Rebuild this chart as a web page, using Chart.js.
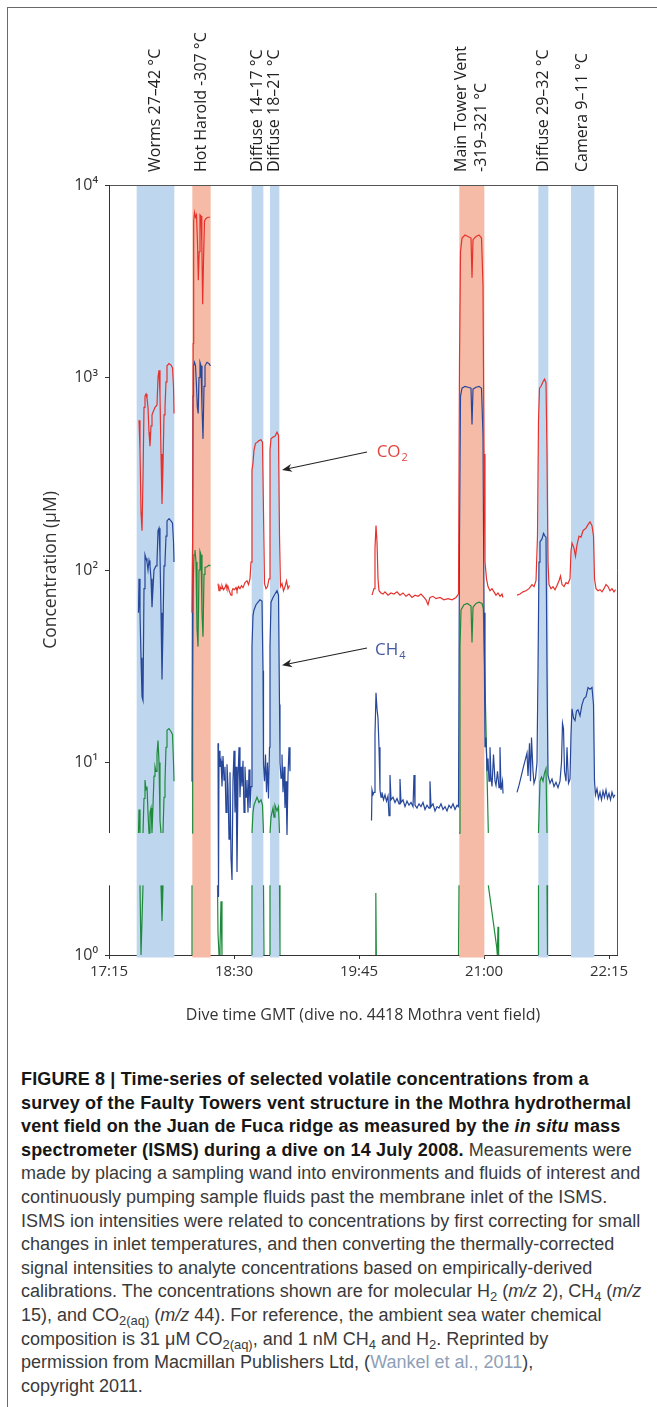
<!DOCTYPE html>
<html>
<head>
<meta charset="utf-8">
<script src="https://cdn.jsdelivr.net/npm/chart.js@4.4.0/dist/chart.umd.min.js"></script>
<style>
  html, body { margin: 0; padding: 0; background: #fff; }
  body { width: 657px; height: 1407px; position: relative; overflow: hidden; }
  #frame { position: absolute; left: 7px; top: 7px; width: 700px; height: 1450px; border-left: 1px solid #6a6a6a; border-top: 1px solid #6a6a6a; }
  #chartBox { position: absolute; left: 0; top: 0; width: 657px; height: 1040px; }
  #caption { position: absolute; left: 21px; top: 1068px; font-family: "Liberation Sans", Arial, sans-serif; font-size: 18px; line-height: 23.6px; color: #3a3a3a; white-space: nowrap; }
  #caption b { color: #161616; letter-spacing: 0.15px; }
  #caption sub { font-size: 0.72em; line-height: 0; vertical-align: -0.3em; }
  #caption .ref { color: #8fa0b8; }
</style>
</head>
<body>
<div id="frame"></div>
<div id="chartBox"><canvas id="ismsChart" width="657" height="1040"></canvas></div>
<div id="caption">
<b>FIGURE 8 | Time-series of selected volatile concentrations from a<br>
survey of the Faulty Towers vent structure in the Mothra hydrothermal<br>
vent field on the Juan de Fuca ridge as measured by the <i>in situ</i> mass<br>
spectrometer (ISMS) during a dive on 14 July 2008.</b> Measurements were<br>
made by placing a sampling wand into environments and fluids of interest and<br>
continuously pumping sample fluids past the membrane inlet of the ISMS.<br>
ISMS ion intensities were related to concentrations by first correcting for small<br>
changes in inlet temperatures, and then converting the thermally-corrected<br>
signal intensities to analyte concentrations based on empirically-derived<br>
calibrations. The concentrations shown are for molecular H<sub>2</sub> (<i>m/z</i> 2), CH<sub>4</sub> (<i>m/z</i><br>
15), and CO<sub>2(aq)</sub> (<i>m/z</i> 44). For reference, the ambient sea water chemical<br>
composition is 31 &mu;M CO<sub>2(aq)</sub>, and 1 nM CH<sub>4</sub> and H<sub>2</sub>. Reprinted by<br>
permission from Macmillan Publishers Ltd, (<span class="ref">Wankel et al., 2011</span>),<br>
copyright 2011.
</div>
<script>
"use strict";

// time axis: minutes after 17:15 GMT
const START = 17 * 60 + 15;
const xTicks = [0, 75, 150, 225, 300];
const yTicks = [1, 10, 100, 1000, 10000];

// sampling windows
const bandStart = [16.6, 50.0, 85.6, 96.6, 210.2, 257.6, 277.2];
const bandEnd   = [39.2, 61.0, 92.6, 102.2, 225.2, 263.6, 291.2];
const bandKind  = ['cool', 'hot', 'cool', 'cool', 'hot', 'cool', 'cool'];
const bandLabels = [
  ['Worms 27–42 °C'], ['Hot Harold -307 °C'], ['Diffuse 14–17 °C'], ['Diffuse 18–21 °C'],
  ['Main Tower Vent', '-319–321 °C'], ['Diffuse 29–32 °C'], ['Camera 9–11 °C']
];

// CO2 (µM)
const co2Time = [
  18.0,18.6,19.2,19.8,20.4,21.0,21.6,22.2,22.8,23.4,24.0,24.6,25.2,25.8,26.4,27.6,28.8,29.4,30.0,30.6,31.2,31.8,32.4,33.0,33.6,34.2,34.8,36.0,37.2,38.1,38.7,39.0, 44,
  49.8,50.2,50.5,50.8,51.3,51.9,52.5,53.1,53.6,54.1,54.6,55.2,55.7,56.2,56.7,57.3,58.2,59.4,60.6, 63,
  65.4,66.0,66.6,67.2,67.8,68.7,69.6,70.2,70.8,71.4,72.3,73.2,73.8,74.4,75.3,76.2,76.8,77.7,78.6,79.5,80.4,81.6,82.8,83.7,84.6,85.2,85.8,86.4,87.0,87.9,88.8,90.0,91.2,92.1,92.7,93.3,94.2,95.1,96.0,96.6,97.2,98.4,99.6,100.8,101.7,102.3,102.9,103.8,104.7,105.6,106.5,107.4,108.3, 130,
  157.8,159.0,159.6,160.2,160.8,161.4,162.0,163.2,164.4,165.6,167.4,169.2,171.0,172.8,174.6,176.4,178.2,180.0,181.8,183.6,185.4,187.2,189.0,190.2,191.4,192.6,194.4,196.2,198.6,201.0,203.4,205.8,208.2,209.7,210.3,210.9,211.8,213.6,215.4,217.2,217.8,218.4,220.2,222.0,223.5,224.4,225.0,225.6,226.5,227.4,228.6,229.8,231.0,232.2,233.4,234.6,235.8,236.4, 240,
  244.8,246.6,248.4,250.2,252.0,253.8,255.0,256.2,257.1,257.7,258.3,259.2,260.4,261.3,262.2,262.8,263.4,264.0,265.2,266.4,267.6,268.8,270.0,270.9,271.8,273.0,274.2,275.4,276.6,277.2,277.8,279.0,279.9,280.8,282.0,283.2,284.4,286.2,287.4,288.6,289.8,290.7,291.3,292.2,293.4,294.6,295.8,297.0,298.2,299.4,300.6,301.8,303.0,303.9
];
const co2Value = [
  600,420,200,160,300,700,800,820,780,700,520,440,560,640,660,700,720,1000,1090,800,400,220,350,640,700,950,1150,1180,1160,1120,900,650, null,
  60,150,1500,6500,7200,6800,7000,5000,3200,4500,7000,6900,5000,2400,4000,6500,6700,6800,6800, null,
  85,78,82,80,83,79,81,84,80,82,77,74,78,80,79,81,78,82,80,83,81,86,88,84,90,110,330,360,420,455,460,470,475,460,200,85,80,82,90,420,480,490,495,520,500,150,82,85,78,82,88,80,83, null,
  74,80,130,170,140,90,78,76,75,77,74,76,75,77,74,76,73,75,72,74,73,75,72,70,66,72,73,71,72,70,71,70,72,75,1200,4500,5300,5500,5400,5300,3300,5200,5400,5500,5300,3000,400,110,90,82,78,80,77,74,76,73,75,72, null,
  74,75,77,78,80,84,82,88,150,600,880,900,950,980,940,400,110,84,80,82,79,83,88,93,84,82,86,85,90,125,138,130,118,135,150,148,160,165,172,178,170,150,90,80,78,79,77,80,84,82,78,80,77,79
];

// CH4 (µM)
const ch4Time = [
  17.7,18.0,18.6,19.2,19.8,20.4,21.0,21.6,22.2,22.8,23.4,24.0,24.6,25.2,25.8,26.4,27.0,28.2,28.8,29.4,30.0,30.6,31.2,31.8,32.4,33.0,33.6,34.2,34.8,36.0,37.2,38.1,38.7,39.0, 44,
  49.5,49.8,50.1,50.4,50.7,51.3,51.9,52.5,53.0,53.5,54.0,54.6,55.2,55.8,56.4,57.0,57.6,58.8,60.0,60.9, 63,
  65.4,65.7,66.0,66.6,67.2,67.8,68.4,69.0,69.6,70.2,70.8,71.4,72.0,72.6,73.2,73.8,74.4,75.0,75.6,76.2,76.8,77.4,78.0,78.6,79.2,79.8,80.4,81.0,81.6,82.2,82.8,83.4,84.0,84.6,85.2,85.8,86.4,87.0,88.2,89.4,90.6,91.8,92.4,92.7,93.3,93.9,94.5,95.1,95.7,96.3,96.6,97.2,98.4,99.6,100.8,101.7,102.3,102.6,103.2,103.8,104.4,105.0,105.6,106.2,106.8,107.4,108.0,108.6, 130,
  157.5,157.8,158.4,159.0,159.6,160.2,160.8,161.4,162.0,162.6,163.2,163.8,164.7,165.6,166.5,167.4,168.0,168.6,169.2,170.4,171.6,172.8,174.0,174.6,175.2,176.4,177.6,178.8,180.0,181.2,182.4,183.0,183.6,184.8,186.0,187.2,188.4,189.6,190.8,192.0,192.6,193.2,194.4,195.6,196.8,198.0,199.2,200.4,201.6,202.8,204.0,205.2,206.4,207.6,208.8,209.7,210.3,210.9,211.8,213.6,215.4,217.2,217.8,218.4,220.2,222.0,223.5,224.4,225.0,225.6,226.2,226.8,227.4,228.0,228.6,229.2,229.8,230.7,231.6,232.2,233.1,234.0,234.6,235.2,236.1,236.4, 240,
  244.8,246.0,247.2,248.4,249.6,250.8,251.4,252.3,252.9,253.5,254.4,255.0,255.9,256.8,257.4,258.0,258.6,259.8,260.7,261.6,262.2,262.8,263.4,264.6,265.8,267.0,268.2,269.4,270.6,271.5,272.1,272.7,273.3,274.2,274.8,275.7,276.6,277.2,277.8,278.7,279.6,280.5,281.4,282.6,283.8,285.0,286.2,287.4,288.6,289.8,290.7,291.3,291.9,292.8,293.7,294.6,295.5,296.4,297.3,298.2,299.1,300.0,300.9,301.8,302.7,303.6
];
const ch4Value = [
  60,90,60,35,22,21,80,120,115,110,100,112,105,90,64,80,100,105,110,160,165,120,60,27,50,105,110,150,180,185,180,175,140,110, null,
  8,10,100,800,1150,1200,1150,900,700,650,1000,1200,1150,700,480,900,1150,1200,1180,1150, null,
  12.6,2.0,11.5,9.5,10.2,7.5,10.8,8.1,9.5,5.5,9.8,7.5,4.0,8.9,3.2,2.45,8.1,11.5,5.5,9.5,2.7,8.1,12,6.6,9.5,7.5,10.2,5.5,9.5,6.6,8.1,5.5,9.2,5.8,7.5,40,58,62,66,68,70,69,30,9.8,8,11,7,10,6.5,12,40,68,72,75,78,74,20,10,8.3,11,7,9.5,5.8,8,4.2,8.5,12,9, null,
  5.0,7.2,6.8,7.0,14,23,19,17,12,7.2,6.6,7.0,6.4,6.8,6.3,6.7,5.3,8.6,6.4,6.6,6.2,6.5,6.1,8.2,6.2,6.4,5.9,6.3,6.0,6.2,5.9,8.6,6.0,5.8,6.1,5.9,6.2,5.7,6.0,5.8,8.0,5.9,6.1,5.6,5.9,5.8,6.1,5.7,5.9,5.6,6.0,5.8,6.1,5.7,6.0,5.9,150,800,880,900,890,880,570,870,890,900,880,500,60,12,13.5,9,10.5,8,12,8.4,7.5,11,8,7.6,9,7.4,12,7.2,8,6.9, null,
  7.0,7.6,8.4,9.3,10.2,11.2,8.5,12.6,8.0,13.5,9.0,7.8,8.3,10,30,110,140,145,155,150,148,30,8.6,7.8,8.2,7.5,7.9,7.4,8.0,10,16,15,9,8.0,12,7.8,8.2,14,19,17,16.5,18.5,18.8,17.5,20,21.5,22,24.5,24,24.5,20,8,6.8,7.3,6.5,7.0,6.4,7.1,6.6,7.2,6.5,6.9,6.4,7.0,6.6,6.8
];

// H2 (µM); nulls mark where the trace crosses the axis break
const h2Time = [
  17.7,18.0,18.6,18.6,18.6,19.2,19.8,20.4,20.4,20.4,21.0,21.6,22.2,22.8,23.4,24.0,24.6,25.2,25.8,26.4,27.0,27.6,28.2,28.8,29.4,30.0,30.6,31.2,31.2,31.2,31.8,32.4,32.4,32.4,33.0,33.6,34.2,34.8,36.0,37.2,38.1,38.7,39.0, 44,
  49.5,49.8,49.8,49.9,50.1,50.3,50.6,51.0,51.6,52.2,52.8,53.4,54.0,54.6,55.2,55.8,56.4,57.0,57.6,58.8,60.0,60.9, 63,
  65.1,65.4,66.0,66.6,67.2,67.8, 75,
  85.5,85.8,85.8,85.8,86.4,87.0,87.9,88.8,90.0,91.2,92.1,92.7,92.7,92.7,93.0, 94.5,
  96.3,96.6,96.6,96.6,97.2,98.4,99.0,99.6,100.8,101.7,102.3,102.3,102.3,102.6, 130,
  159.8,160.1,160.4, 185,
  209.7,210.0,210.0,210.0,210.6,211.2,213.0,215.0,217.2,217.8,218.4,220.2,222.0,223.8,224.6,227.6,227.6,227.6,232.6,233.0,233.4,233.8, 245,
  257.4,257.7,257.7,257.7,258.6,259.5,260.4,261.3,262.2,262.8,262.8,262.8,263.1
];
const h2Value = [
  4.3,5.7,4.3,null,2.3,1.0,1.0,2.3,null,4.3,6.5,8.1,7.2,7.5,5.5,4.3,5.5,5.8,4.3,6.0,8.5,9.5,9.0,11,13,10,5.0,4.3,null,2.3,1.5,2.3,null,4.3,6.6,8,12,14.7,15,14.5,14,10,8, null,
  1.0,2.3,null,4.3,5,20,90,120,127,110,50,40,100,125,120,60,45,95,103,104,106,105, null,
  2.3,1.3,1.0,1.1,1.9,1.0, null,
  1.0,2.3,null,4.3,5.5,6.0,6.3,6.6,6.2,6.4,6.0,4.3,null,2.3,1.0, null,
  1.0,2.3,null,4.3,5.2,5.8,5.2,6.0,5.6,5.9,4.3,null,2.3,1.0, null,
  1.0,2.1,1.0, null,
  1.0,2.3,null,4.3,40,62,66,67,65,42,64,67,68,67,63,4.3,null,2.3,1.1,1.0,1.4,1.0, null,
  1.0,2.3,null,4.3,8.0,8.4,8.0,8.8,9.3,4.3,null,2.3,1.0
];

// y-axis break (values between these are not drawn)
const breakLow = 2.3, breakHigh = 4.3;

const FONT = '"Open Sans", "DejaVu Sans", sans-serif';
const COOL = '#bfd7ee', HOT = '#f6bba6';
const SUP = ['⁰', '¹', '²', '³', '⁴'];

const toPoints = (times, vals) => times.map((t, i) => ({ x: START + t, y: vals[i] }));
const clock = v => Math.floor(v / 60) + ':' + String(Math.round(v % 60)).padStart(2, '0');

const notes = [
  { text: 'CO', sub: '2', color: '#e2463f', tip: [103.8, 331], tail: [154.8, 410], at: [160.6, 410] },
  { text: 'CH', sub: '4', color: '#44599f', tip: [103.8, 32], tail: [154.8, 39.3], at: [159.6, 38.4] }
];

const decor = {
  id: 'decor',
  beforeDatasetsDraw(chart) {
    const { ctx, chartArea: a, scales: { x, y } } = chart;
    ctx.save();
    bandStart.forEach((s, i) => {
      const x0 = x.getPixelForValue(START + s);
      const x1 = x.getPixelForValue(START + bandEnd[i]);
      ctx.fillStyle = bandKind[i] === 'hot' ? HOT : COOL;
      ctx.fillRect(x0, a.top + 1, x1 - x0, a.bottom - a.top + 1.5);
    });
    ctx.lineWidth = 1;
    ctx.strokeStyle = '#555';
    ctx.beginPath();
    ctx.moveTo(a.left, a.top + 0.5);
    ctx.lineTo(a.right + 0.5, a.top + 0.5);
    ctx.lineTo(a.right + 0.5, a.bottom);
    ctx.stroke();
    // left axis, interrupted at the break
    ctx.strokeStyle = '#333';
    ctx.beginPath();
    ctx.moveTo(a.left + 0.5, a.top);
    ctx.lineTo(a.left + 0.5, y.getPixelForValue(breakHigh));
    ctx.moveTo(a.left + 0.5, y.getPixelForValue(breakLow));
    ctx.lineTo(a.left + 0.5, a.bottom + 0.5);
    ctx.stroke();
    ctx.restore();
  },
  afterDatasetsDraw(chart) {
    const { ctx, scales: { x, y } } = chart;
    ctx.save();
    notes.forEach(n => {
      const tx = x.getPixelForValue(START + n.tip[0]), ty = y.getPixelForValue(n.tip[1]);
      const sx = x.getPixelForValue(START + n.tail[0]), sy = y.getPixelForValue(n.tail[1]);
      const ang = Math.atan2(ty - sy, tx - sx);
      ctx.strokeStyle = '#222';
      ctx.fillStyle = '#222';
      ctx.lineWidth = 1.1;
      ctx.beginPath();
      ctx.moveTo(sx, sy);
      ctx.lineTo(tx - 6 * Math.cos(ang), ty - 6 * Math.sin(ang));
      ctx.stroke();
      ctx.beginPath();
      ctx.moveTo(tx, ty);
      ctx.lineTo(tx - 10 * Math.cos(ang) + 4 * Math.sin(ang), ty - 10 * Math.sin(ang) - 4 * Math.cos(ang));
      ctx.lineTo(tx - 7 * Math.cos(ang), ty - 7 * Math.sin(ang));
      ctx.lineTo(tx - 10 * Math.cos(ang) - 4 * Math.sin(ang), ty - 10 * Math.sin(ang) + 4 * Math.cos(ang));
      ctx.closePath();
      ctx.fill();
      const lx = x.getPixelForValue(START + n.at[0]), ly = y.getPixelForValue(n.at[1]);
      ctx.fillStyle = n.color;
      ctx.textAlign = 'left';
      ctx.textBaseline = 'middle';
      ctx.font = '17px ' + FONT;
      ctx.fillText(n.text, lx, ly);
      const w = ctx.measureText(n.text).width;
      ctx.font = '11px ' + FONT;
      ctx.fillText(n.sub, lx + w + 1, ly + 6);
    });
    ctx.restore();
  },
  afterDraw(chart) {
    const { ctx, chartArea: a, scales: { x } } = chart;
    ctx.save();
    ctx.fillStyle = '#222';
    ctx.font = '16px ' + FONT;
    ctx.textAlign = 'left';
    ctx.textBaseline = 'middle';
    bandLabels.forEach((lines, i) => {
      const cx = (x.getPixelForValue(START + bandStart[i]) + x.getPixelForValue(START + bandEnd[i])) / 2;
      lines.forEach((txt, j) => {
        const off = (j - (lines.length - 1) / 2) * 20;
        ctx.save();
        ctx.translate(cx + off, a.top - 13);
        ctx.rotate(-Math.PI / 2);
        ctx.fillText(txt, 0, 0);
        ctx.restore();
      });
    });
    ctx.restore();
  }
};

const line = (label, color, times, vals) => ({
  label,
  data: toPoints(times, vals),
  borderColor: color,
  backgroundColor: color,
  borderWidth: 1.2,
  pointRadius: 0,
  tension: 0,
  spanGaps: false
});

new Chart(document.getElementById('ismsChart'), {
  type: 'line',
  data: {
    datasets: [
      line('CO2', '#e5322d', co2Time, co2Value),
      line('CH4', '#27479b', ch4Time, ch4Value),
      line('H2', '#1f8a3c', h2Time, h2Value)
    ]
  },
  options: {
    responsive: false,
    animation: false,
    events: [],
    layout: { padding: { left: 0, right: 40, top: 185, bottom: 0 } },
    plugins: { legend: { display: false }, tooltip: { enabled: false } },
    scales: {
      x: {
        type: 'linear',
        min: START,
        max: START + 304.8,
        afterBuildTicks: s => { s.ticks = xTicks.map(v => ({ value: START + v })); },
        afterFit: s => { s.height = 85; },
        ticks: { callback: v => clock(v), autoSkip: false, maxRotation: 0, padding: 4, color: '#333', font: { family: FONT, size: 15 } },
        grid: { drawOnChartArea: false, drawTicks: true, tickLength: 4, color: '#333' },
        border: { display: true, color: '#333', width: 1 },
        title: { display: true, text: 'Dive time GMT (dive no. 4418 Mothra vent field)', color: '#333', font: { family: FONT, size: 16 }, padding: { top: 0, bottom: 15 } }
      },
      y: {
        type: 'logarithmic',
        min: 1,
        max: 10000,
        afterBuildTicks: s => { s.ticks = yTicks.map(v => ({ value: v })); },
        afterFit: s => { s.width = 109; },
        ticks: { callback: v => '10' + SUP[Math.round(Math.log10(v))], autoSkip: false, padding: 7, color: '#333', font: { family: FONT, size: 16 } },
        grid: { drawOnChartArea: false, drawTicks: true, tickLength: 4, color: '#333' },
        border: { display: false },
        title: { display: true, text: 'Concentration (µM)', color: '#333', font: { family: FONT, size: 17.5 }, padding: { top: 41, bottom: 0 } }
      }
    }
  },
  plugins: [decor]
});
</script>
</body>
</html>
